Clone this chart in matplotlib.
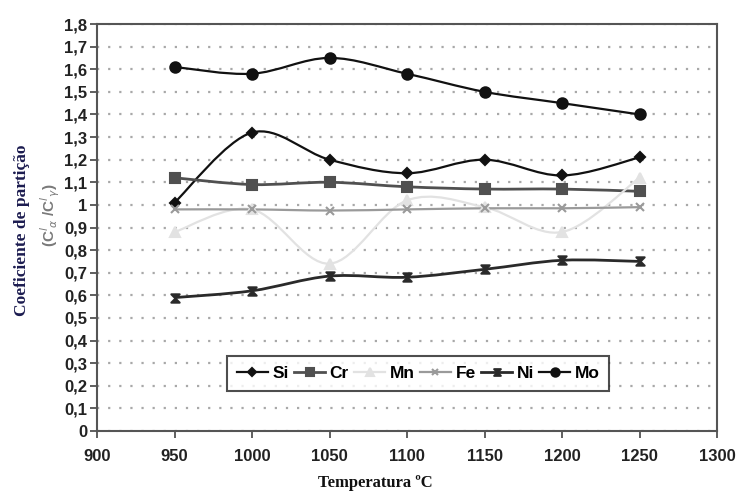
import numpy as np
import matplotlib
matplotlib.use("Agg")
import matplotlib.pyplot as plt
from matplotlib.path import Path
from matplotlib.patches import PathPatch
from matplotlib.lines import Line2D

# data
temps = [950, 1000, 1050, 1100, 1150, 1200, 1250]
si = [1.01, 1.32, 1.20, 1.14, 1.20, 1.13, 1.21]
cr = [1.12, 1.09, 1.10, 1.08, 1.07, 1.07, 1.06]
mn = [0.88, 0.98, 0.74, 1.02, 0.99, 0.88, 1.12]
fe = [0.98, 0.98, 0.975, 0.98, 0.985, 0.985, 0.99]
ni = [0.59, 0.62, 0.685, 0.68, 0.715, 0.755, 0.75]
mo = [1.61, 1.58, 1.65, 1.58, 1.50, 1.45, 1.40]
names = ["Si", "Cr", "Mn", "Fe", "Ni", "Mo"]

y_ticks = [i / 10 for i in range(19)]
y_labels = [("%.1f" % v).replace(".", ",") if v not in (0, 1) else "%d" % v for v in y_ticks]
x_ticks = list(range(900, 1301, 50))

# hourglass-ish marker used for Ni
ni_marker = Path([(-1, 1), (1, 1), (-1, -1), (1, -1), (-1, 1)],
                 [Path.MOVETO, Path.LINETO, Path.LINETO, Path.LINETO, Path.CLOSEPOLY])

# color, linewidth, marker, markersize
styles = {
    "Si": ("#111111", 1.6, "D", 5),
    "Cr": ("#505050", 2.0, "s", 7),
    "Mn": ("#e2e2e2", 1.6, "^", 7),
    "Fe": ("#9a9a9a", 1.6, "x", 6),
    "Ni": ("#2a2a2a", 2.0, ni_marker, 6),
    "Mo": ("#111111", 1.6, "o", 7.5),
}


def smooth_path(x, y):
    # Excel style smoothed line: bezier segments through each point
    pts = np.column_stack([x, y]).astype(float)
    n = len(pts)
    verts = [pts[0]]
    codes = [Path.MOVETO]
    for i in range(n - 1):
        p0 = pts[max(i - 1, 0)]
        p1 = pts[i]
        p2 = pts[i + 1]
        p3 = pts[min(i + 2, n - 1)]
        verts += [p1 + (p2 - p0) / 6, p2 - (p3 - p1) / 6, p2]
        codes += [Path.CURVE4] * 3
    return Path(verts, codes)


fig = plt.figure(figsize=(7.45, 4.94), dpi=100)
ax = fig.add_axes([97 / 745, 1 - 431 / 494, 620 / 745, 407 / 494])

handles = []
for name, vals in zip(names, [si, cr, mn, fe, ni, mo]):
    color, lw, marker, ms = styles[name]
    ax.add_patch(PathPatch(smooth_path(temps, vals), facecolor="none",
                           edgecolor=color, lw=lw, zorder=3))
    ax.plot(temps, vals, ls="none", marker=marker, ms=ms, color=color,
            mec=color, mew=1.5, zorder=4)
    handles.append(Line2D([], [], color=color, lw=lw, marker=marker,
                          ms=ms * 0.8, mec=color, mew=1.5, label=name))

ax.set_xlim(900, 1300)
ax.set_ylim(0, 1.8)
ax.set_xticks(x_ticks)
ax.set_yticks(y_ticks)
ax.set_yticklabels(y_labels)
ax.yaxis.grid(True, color="#a8a8a8", linestyle=(0, (1, 4)), linewidth=1.6)
ax.set_axisbelow(True)

for sp in ax.spines.values():
    sp.set_color("#555555")
    sp.set_linewidth(1.5)

ax.tick_params(direction="out", length=5, width=1.2, color="#444444",
               labelsize=12, labelcolor="#222222")
ax.tick_params(axis="y", pad=2)
for lab in ax.get_xticklabels() + ax.get_yticklabels():
    lab.set_fontfamily("Liberation Sans")
    lab.set_fontweight("bold")
ax.tick_params(axis="x", pad=8)

leg = ax.legend(handles=handles, ncol=6, loc="center",
                bbox_to_anchor=(0.518, 0.141), frameon=True, fancybox=False,
                handlelength=1.8, handletextpad=0.25, columnspacing=0.3,
                borderpad=0.55,
                prop={"family": "Liberation Sans", "weight": "bold", "size": 12.5})
leg.get_frame().set_edgecolor("#222222")
leg.get_frame().set_linewidth(1.5)

fig.text(375 / 745, 1 - 483 / 494, "Temperatura ºC", ha="center", va="center",
         fontfamily="Liberation Serif", fontweight="bold", fontsize=12,
         color="#111111")
fig.text(22 / 745, 1 - 230 / 494, "Coeficiente de partição", rotation=90,
         ha="center", va="center", fontfamily="Liberation Serif",
         fontweight="bold", fontsize=12.5, color="#1b1b4f")
fig.text(50 / 745, 1 - 215 / 494,
         r"(C$^{l}$$_{\alpha}$ /C$^{l}$$_{\gamma}$)",
         rotation=90, ha="center", va="center", fontfamily="Liberation Sans",
         fontweight="bold", fontsize=11, color="#7a7a7a")

fig.savefig("out.png", dpi=100)
